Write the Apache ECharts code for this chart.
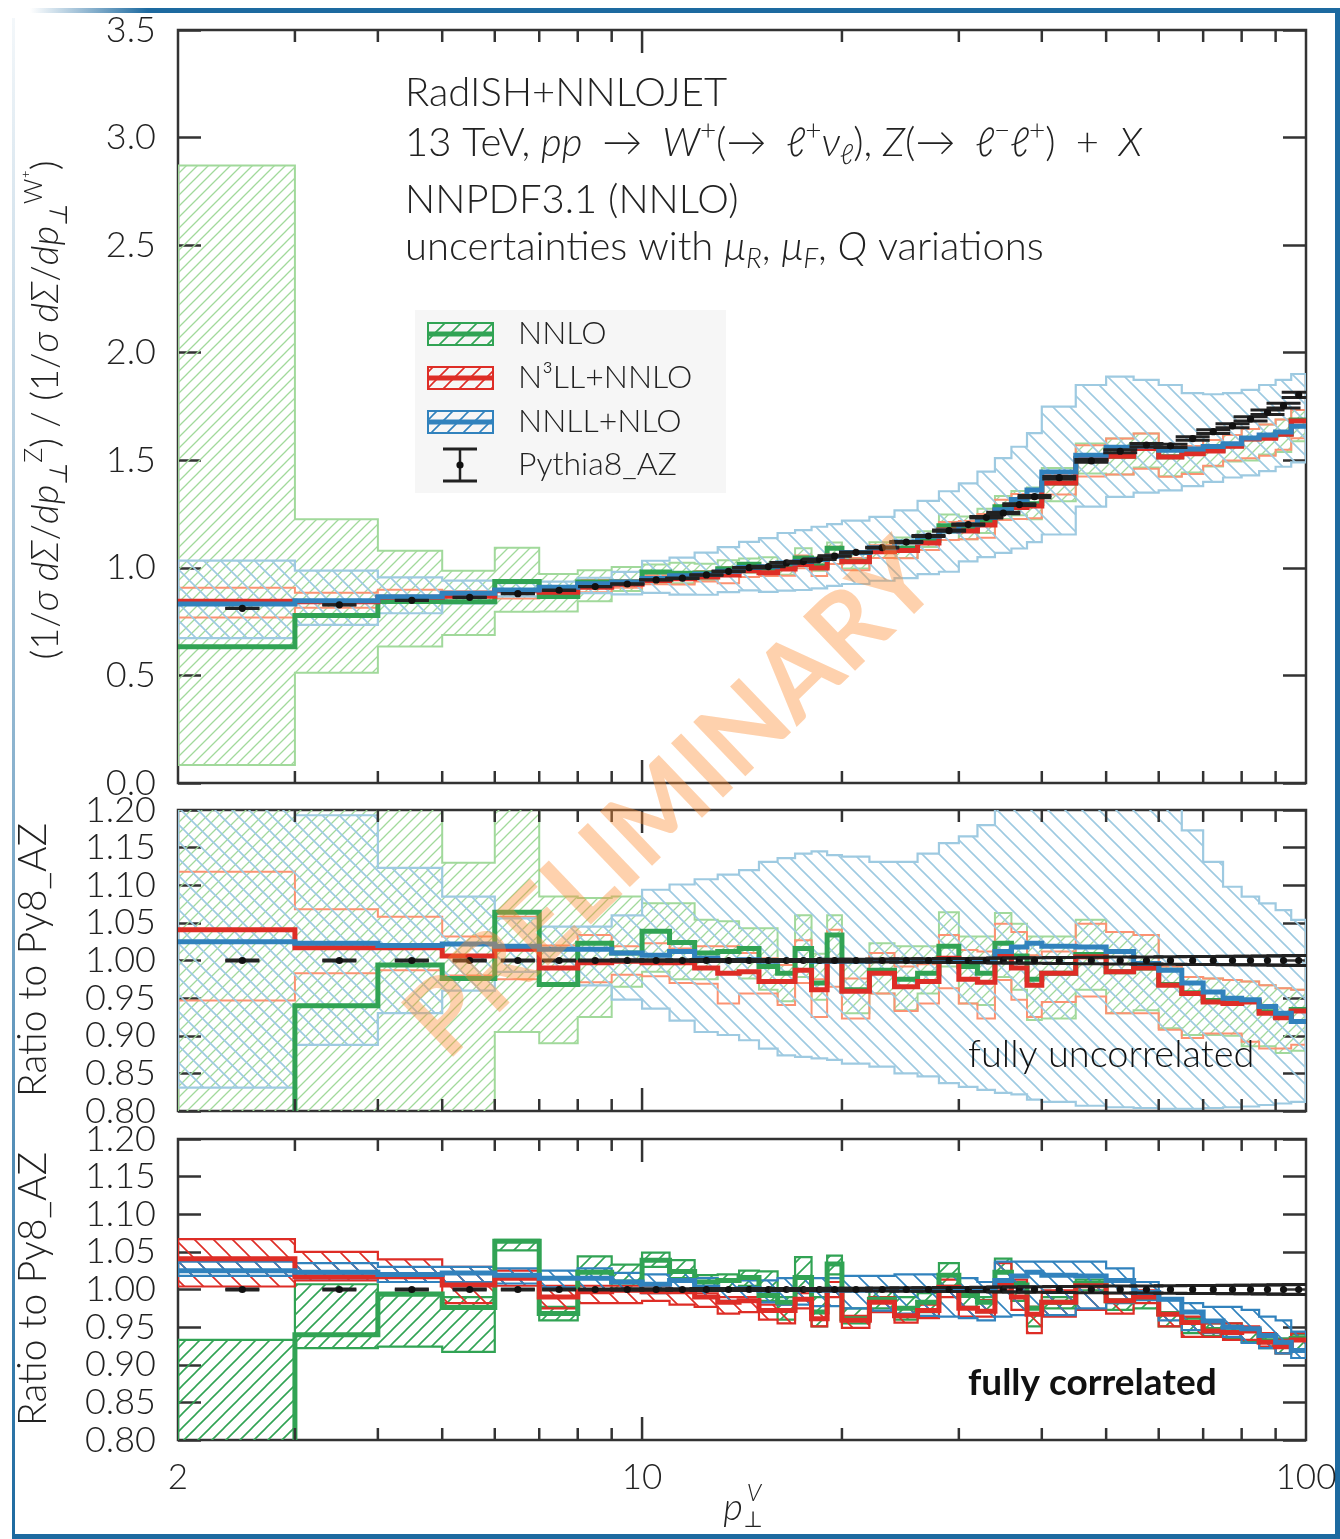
<!DOCTYPE html>
<html><head><meta charset="utf-8">
<script src="https://cdn.jsdelivr.net/npm/echarts@6/dist/echarts.min.js"></script>
<style>html,body{margin:0;padding:0;background:#fff}#c{width:1340px;height:1539px}</style>
</head><body><div id="c"></div>
<script>
// ---------------- DATA ----------------
const binEdges = [2,3,4,5,6,7,8,9,10,11,12,13,14,15,16,17,18,19,20,22,24,26,28,30,32,34,36,38,40,45,50,55,60,65,70,75,80,85,90,95,100];
const xMinorTicks = [3,4,5,6,7,8,9,20,30,40,50,60,70,80,90];
const xMajorTicks = [10];
const seriesNames = ['NNLO','N³LL+NNLO','NNLL+NLO','Pythia8_AZ'];

// Pythia8_AZ ratio Z/W+ (top panel) and its relative error
const pythia = [0.812,0.828,0.849,0.863,0.880,0.896,0.913,0.925,0.944,0.952, 0.967,0.984,1.001,1.006,1.023,1.029,1.040,1.055,1.072,1.094, 1.120,1.148,1.173,1.201,1.235,1.255,1.294,1.331,1.419,1.497, 1.542,1.571,1.567,1.601,1.633,1.660,1.692,1.723,1.754,1.804];
const pythiaRelErr = [0.0008,0.0008,0.0008,0.0008,0.0008,0.0008,0.0008,0.0010,0.0010,0.0010, 0.0012,0.0012,0.0012,0.0012,0.0014,0.0014,0.0014,0.0015,0.0018,0.0020, 0.0022,0.0024,0.0026,0.0028,0.0030,0.0032,0.0034,0.0036,0.0040,0.0042, 0.0045,0.0048,0.0050,0.0052,0.0054,0.0056,0.0058,0.0060,0.0062,0.0065];

// central predictions, ratio to Pythia8_AZ
const ratioNNLO = [0.780,0.940,0.994,0.976,1.064,0.968,1.023,1.010,1.039,1.024, 1.010,1.012,1.016,0.992,0.983,1.016,0.970,1.034,0.961,0.987, 0.975,0.983,1.019,0.992,0.983,1.023,1.006,0.975,0.983,1.008, 0.985,0.990,0.968,0.957,0.947,0.944,0.946,0.932,0.925,0.935];
const ratioN3LL = [1.041,1.017,1.017,1.006,1.015,0.990,0.997,0.999,0.997,0.997, 0.990,0.983,0.985,0.972,0.972,0.987,0.961,1.000,0.959,0.983, 0.965,0.972,1.003,0.975,0.971,1.007,0.990,0.967,0.983,1.005, 0.985,0.990,0.967,0.956,0.945,0.943,0.945,0.930,0.924,0.933];
const ratioNNLL = [1.025,1.023,1.020,1.022,1.019,1.015,1.015,1.010,1.007,1.012, 1.003,1.000,1.001,0.999,1.000,1.000,0.999,0.999,0.999,1.000, 1.000,0.999,0.999,0.999,0.999,1.012,1.018,1.023,1.019,1.018, 1.012,0.996,0.987,0.970,0.958,0.950,0.948,0.939,0.930,0.919];

// top panel uncertainty bands
const topNNLOLo = [0.084,0.513,0.634,0.688,0.796,0.797,0.845,0.893,0.930,0.928, 0.943,0.967,0.977,0.967,0.968,1.006,0.986,1.054,0.997,1.046, 1.046,1.097,1.164,1.133,1.162,1.227,1.244,1.226,1.310,1.439, 1.434,1.467,1.426,1.443,1.471,1.494,1.499,1.527,1.538,1.588];
const topNNLOHi = [2.870,1.226,1.080,0.986,1.094,0.972,0.989,1.004,1.016,1.024, 1.019,1.035,1.044,1.049,1.022,1.091,1.049,1.118,1.071,1.119, 1.141,1.170,1.248,1.239,1.275,1.334,1.357,1.374,1.464,1.578, 1.601,1.624,1.554,1.566,1.594,1.617,1.645,1.666,1.689,1.734];
const topN3LLLo = [0.769,0.814,0.838,0.846,0.858,0.869,0.887,0.907,0.924,0.923, 0.937,0.928,0.957,0.962,0.963,0.998,0.962,1.018,0.989,1.046, 1.045,1.083,1.130,1.133,1.140,1.222,1.227,1.231,1.341,1.425, 1.434,1.461,1.423,1.436,1.475,1.499,1.509,1.521,1.549,1.602];
const topN3LLHi = [0.908,0.884,0.898,0.891,0.931,0.914,0.944,0.943,0.966,0.967, 0.985,1.003,1.011,1.009,1.017,1.057,1.014,1.098,1.046,1.105, 1.111,1.142,1.213,1.218,1.250,1.316,1.343,1.340,1.436,1.570, 1.601,1.624,1.554,1.566,1.594,1.617,1.645,1.666,1.689,1.734];
const topNNLLLo = [0.673,0.735,0.789,0.835,0.867,0.866,0.883,0.877,0.884,0.876, 0.875,0.887,0.895,0.888,0.894,0.897,0.905,0.916,0.925,0.940, 0.952,0.971,0.982,1.030,1.050,1.070,1.090,1.120,1.155,1.285, 1.330,1.350,1.360,1.380,1.400,1.420,1.430,1.450,1.470,1.490];
const topNNLLHi = [1.034,0.987,0.956,0.941,0.929,0.936,0.954,0.981,1.033,1.048, 1.071,1.096,1.121,1.138,1.162,1.175,1.191,1.203,1.220,1.237, 1.267,1.311,1.356,1.393,1.447,1.510,1.563,1.626,1.749,1.850, 1.889,1.874,1.850,1.812,1.807,1.812,1.827,1.850,1.874,1.901];

// middle panel: fully uncorrelated ratio bands
const uncNNLOLo = [0.103,0.620,0.747,0.700,0.905,0.890,0.925,0.965,0.985,0.975, 0.975,0.983,0.976,0.961,0.946,0.978,0.948,0.999,0.930,0.956, 0.934,0.956,0.992,0.943,0.941,0.978,0.961,0.921,0.923,0.961, 0.930,0.934,0.910,0.901,0.901,0.900,0.886,0.886,0.877,0.880];
const uncNNLOHi = [3.530,1.480,1.272,1.130,1.243,1.085,1.083,1.085,1.076,1.076, 1.054,1.052,1.043,1.043,0.999,1.060,1.009,1.060,0.999,1.023, 1.019,1.019,1.064,1.032,1.032,1.063,1.049,1.032,1.032,1.054, 1.038,1.034,0.992,0.978,0.976,0.974,0.972,0.967,0.963,0.961];
const uncN3LLLo = [0.947,0.983,0.987,0.980,0.975,0.970,0.971,0.981,0.979,0.970, 0.969,0.943,0.956,0.956,0.941,0.970,0.925,0.965,0.923,0.956, 0.933,0.943,0.963,0.943,0.923,0.974,0.948,0.925,0.945,0.952, 0.930,0.930,0.908,0.897,0.903,0.903,0.892,0.883,0.883,0.888];
const uncN3LLHi = [1.118,1.068,1.058,1.032,1.058,1.020,1.034,1.019,1.023,1.016, 1.019,1.019,1.010,1.003,0.994,1.027,0.975,1.041,0.976,1.010, 0.992,0.995,1.034,1.014,1.012,1.049,1.038,1.007,1.012,1.049, 1.038,1.034,0.992,0.978,0.976,0.974,0.972,0.967,0.963,0.961];
const uncNNLLLo = [0.831,0.888,0.930,0.960,0.985,0.967,0.967,0.948,0.936,0.920, 0.905,0.901,0.894,0.883,0.874,0.872,0.870,0.868,0.863,0.859, 0.850,0.846,0.837,0.832,0.828,0.824,0.822,0.815,0.812,0.807, 0.805,0.804,0.803,0.803,0.804,0.805,0.806,0.808,0.810,0.812];
const uncNNLLHi = [1.273,1.193,1.123,1.085,1.056,1.045,1.045,1.060,1.094,1.101, 1.108,1.114,1.120,1.131,1.136,1.142,1.145,1.140,1.138,1.131, 1.131,1.142,1.156,1.165,1.180,1.210,1.230,1.250,1.280,1.300, 1.300,1.280,1.230,1.173,1.131,1.098,1.085,1.076,1.067,1.054];

// bottom panel: fully correlated ratio bands
const corNNLOLo = [0.700,0.922,0.924,0.917,1.052,0.959,1.015,1.000,1.030,1.015, 1.000,1.000,1.005,0.985,0.960,1.000,0.951,1.020,0.955,0.975, 0.960,0.970,1.005,0.977,0.970,1.024,0.985,0.951,0.975,0.999, 0.973,0.975,0.951,0.942,0.938,0.935,0.930,0.922,0.915,0.918];
const corNNLOHi = [0.933,1.007,0.992,0.990,1.066,0.977,1.044,1.033,1.049,1.039, 1.019,1.020,1.025,1.024,0.990,1.043,0.990,1.045,0.975,1.000, 0.990,0.995,1.035,0.997,0.990,1.041,1.010,0.977,0.990,1.013, 0.986,0.990,0.968,0.962,0.955,0.955,0.950,0.942,0.935,0.940];
const corN3LLLo = [1.004,1.012,1.010,0.982,1.005,0.975,0.982,0.982,0.985,0.980, 0.977,0.968,0.970,0.960,0.955,0.975,0.951,0.990,0.949,0.970, 0.956,0.962,0.990,0.964,0.964,0.999,0.973,0.942,0.964,0.973, 0.968,0.982,0.951,0.937,0.937,0.933,0.933,0.924,0.915,0.920];
const corN3LLHi = [1.067,1.050,1.040,1.030,1.025,1.005,1.005,1.005,1.005,1.000, 0.995,0.990,0.990,0.980,0.980,0.995,0.970,1.010,0.965,0.990, 0.975,0.980,1.013,0.995,0.986,1.035,1.013,0.977,0.999,1.004, 0.995,0.999,0.968,0.964,0.955,0.955,0.951,0.942,0.933,0.942];
const corNNLLLo = [1.018,1.015,1.010,1.010,1.008,1.003,1.000,0.998,0.995,0.998, 0.990,0.985,0.985,0.983,0.980,0.980,0.978,0.978,0.975,0.972, 0.968,0.965,0.964,0.962,0.959,0.964,0.966,0.966,0.966,0.975, 0.982,0.986,0.959,0.946,0.942,0.937,0.929,0.922,0.915,0.909];
const corNNLLHi = [1.037,1.035,1.030,1.030,1.028,1.025,1.028,1.022,1.020,1.025, 1.015,1.012,1.012,1.012,1.015,1.015,1.015,1.015,1.018,1.018, 1.020,1.020,1.019,1.015,1.010,1.037,1.037,1.037,1.037,1.037, 1.028,1.010,0.986,0.982,0.977,0.977,0.973,0.964,0.959,0.944];

// ---------------- STYLE ----------------
const FONT = 'Lato';
const FW = 300;
const TXT = '#222222';
const AX = '#333333';
const C = {g:'#31a354', r:'#de2d26', b:'#3182bd', gl:'#a1d99b', rl:'#fc9272', bl:'#9ecae1', k:'#111111'};

function hatch(color, size, dir, lw) {
  const cv = document.createElement('canvas');
  cv.width = size; cv.height = size;
  const g = cv.getContext('2d');
  g.strokeStyle = color; g.lineWidth = lw; g.lineCap = 'square';
  g.beginPath();
  if (dir > 0) {
    g.moveTo(0, size); g.lineTo(size, 0);
    g.moveTo(-size/2, size/2); g.lineTo(size/2, -size/2);
    g.moveTo(size/2, size*1.5); g.lineTo(size*1.5, size/2);
  } else {
    g.moveTo(0, 0); g.lineTo(size, size);
    g.moveTo(size/2, -size/2); g.lineTo(size*1.5, size/2);
    g.moveTo(-size/2, size/2); g.lineTo(size/2, size*1.5);
  }
  g.stroke();
  return {image: cv, repeat: 'repeat'};
}

function stepBand(p, lo, hi, stroke, fill, lw, z) {
  return {type:'custom', xAxisIndex:p, yAxisIndex:p*2, clip:true, silent:true, z:z,
    data:[[10, 1]], encode:{x:0, y:1},
    renderItem:function(params, api){
      const pts = [];
      for (let i=0;i<hi.length;i++){ pts.push(api.coord([binEdges[i],hi[i]])); pts.push(api.coord([binEdges[i+1],hi[i]])); }
      for (let i=lo.length-1;i>=0;i--){ pts.push(api.coord([binEdges[i+1],lo[i]])); pts.push(api.coord([binEdges[i],lo[i]])); }
      return {type:'polygon', shape:{points:pts}, style:{fill:fill, stroke:stroke, lineWidth:lw, lineJoin:'miter'}};
    }};
}
function stepLine(p, vals, color, lw, z) {
  return {type:'custom', xAxisIndex:p, yAxisIndex:p*2, clip:true, silent:true, z:z,
    data:[[10, 1]], encode:{x:0, y:1},
    renderItem:function(params, api){
      const pts = [];
      for (let i=0;i<vals.length;i++){ pts.push(api.coord([binEdges[i],vals[i]])); pts.push(api.coord([binEdges[i+1],vals[i]])); }
      return {type:'polyline', shape:{points:pts}, style:{fill:null, stroke:color, lineWidth:lw, lineJoin:'miter'}};
    }};
}
function pythiaSeries(p, vals, errs) {
  const data = vals.map((v,i)=>[(binEdges[i]+binEdges[i+1])/2, v, errs[i]]);
  return {type:'custom', xAxisIndex:p, yAxisIndex:p*2, clip:true, silent:true, z:6,
    data:data, encode:{x:0, y:1},
    renderItem:function(params, api){
      const x = api.value(0), y = api.value(1), e = api.value(2);
      const c = api.coord([x,y]);
      const yh = api.coord([x,y+e])[1], yl = api.coord([x,y-e])[1];
      const hw = 17;
      return {type:'group', children:[
        {type:'line', shape:{x1:c[0],y1:yl,x2:c[0],y2:yh}, style:{stroke:C.k, lineWidth:2}},
        {type:'line', shape:{x1:c[0]-hw,y1:yh,x2:c[0]+hw,y2:yh}, style:{stroke:'#222', lineWidth:3}},
        {type:'line', shape:{x1:c[0]-hw,y1:yl,x2:c[0]+hw,y2:yl}, style:{stroke:'#222', lineWidth:3}},
        {type:'circle', shape:{cx:c[0],cy:c[1],r:3.6}, style:{fill:C.k}}
      ]};
    }};
}
function tickSeries(p, ymin) {
  const data = xMinorTicks.map(v=>[v, ymin, 0]).concat(xMajorTicks.map(v=>[v, ymin, 1]));
  return {type:'custom', xAxisIndex:p, yAxisIndex:p*2, silent:true, z:7, clip:false,
    data:data, encode:{x:0, y:1},
    renderItem:function(params, api){
      const cs = params.coordSys;
      const x = api.coord([api.value(0), api.value(1)])[0];
      const len = api.value(2) ? 23 : 12;
      return {type:'group', children:[
        {type:'line', shape:{x1:x,y1:cs.y+cs.height,x2:x,y2:cs.y+cs.height-len}, style:{stroke:AX, lineWidth:2.5}},
        {type:'line', shape:{x1:x,y1:cs.y,x2:x,y2:cs.y+len}, style:{stroke:AX, lineWidth:2.5}}
      ]};
    }};
}

const series = [];
const topG = ratioNNLO.map((r,i)=>r*pythia[i]);
const topR = ratioN3LL.map((r,i)=>r*pythia[i]);
const topB = ratioNNLL.map((r,i)=>r*pythia[i]);
// top panel
series.push(stepBand(0, topNNLOLo, topNNLOHi, C.gl, hatch(C.gl, 11, 1, 1.3), 2, 2));
series.push(stepBand(0, topN3LLLo, topN3LLHi, C.rl, null, 2, 2));
series.push(stepBand(0, topNNLLLo, topNNLLHi, C.bl, hatch(C.bl, 17, -1, 1.6), 2.2, 2));
series.push(stepLine(0, topG, C.g, 5, 3));
series.push(stepLine(0, topR, C.r, 5, 3));
series.push(stepLine(0, topB, C.b, 5, 3));
series.push(pythiaSeries(0, pythia, pythia.map((v,i)=>v*pythiaRelErr[i])));
// middle panel
series.push(stepBand(1, uncNNLOLo, uncNNLOHi, C.gl, hatch(C.gl, 11, 1, 1.3), 2, 2));
series.push(stepBand(1, uncN3LLLo, uncN3LLHi, C.rl, null, 2, 2));
series.push(stepBand(1, uncNNLLLo, uncNNLLHi, C.bl, hatch(C.bl, 17, -1, 1.6), 2.2, 2));
series.push(stepLine(1, ratioNNLO, C.g, 5, 3));
series.push(stepLine(1, ratioN3LL, C.r, 5, 3));
series.push(stepLine(1, ratioNNLL, C.b, 5, 3));
series.push(pythiaSeries(1, pythia.map(()=>1), pythiaRelErr));
// bottom panel
series.push(stepBand(2, corNNLOLo, corNNLOHi, C.g, hatch(C.g, 14, 1, 1.6), 2.2, 2));
series.push(stepBand(2, corN3LLLo, corN3LLHi, C.r, hatch(C.r, 19, -1, 1.6), 2.2, 2));
series.push(stepBand(2, corNNLLLo, corNNLLHi, C.b, hatch(C.b, 19, -1, 1.6), 2.2, 2));
series.push(stepLine(2, ratioNNLO, C.g, 5, 3));
series.push(stepLine(2, ratioN3LL, C.r, 5, 3));
series.push(stepLine(2, ratioNNLL, C.b, 5, 3));
series.push(pythiaSeries(2, pythia.map(()=>1), pythiaRelErr));
series.push(tickSeries(0, 0.5));
series.push(tickSeries(1, 1.0));
series.push(tickSeries(2, 1.0));

const grids = [
  {left:178, top:30, width:1128, height:753},
  {left:178, top:810, width:1128, height:301},
  {left:178, top:1139, width:1128, height:301}
].map(g=>Object.assign(g,{show:true, borderColor:AX, borderWidth:2.5, backgroundColor:'transparent'}));

const xAxes = [0,1,2].map(i=>({gridIndex:i, type:'log', logBase:10, min:2, max:100,
  axisLine:{show:false}, axisTick:{show:false}, splitLine:{show:false}, minorTick:{show:false},
  axisLabel:{show:i===2, fontSize:35, fontFamily:FONT, fontWeight:FW, color:TXT, margin:20,
    formatter:function(v){return String(Math.round(v));}}}));

function yPair(i, min, max, step, dec) {
  const base = {gridIndex:i, type:'value', min:min, max:max, interval:step,
    axisLine:{show:false}, splitLine:{show:false},
    axisTick:{show:true, inside:true, length:23, lineStyle:{color:AX, width:2.5}}};
  return [
    Object.assign({}, base, {position:'left', axisLabel:{show:true, fontSize:36, fontFamily:FONT, fontWeight:FW, color:TXT, margin:22,
      formatter:function(v){return v.toFixed(dec);}}}),
    Object.assign({}, base, {position:'right', axisLabel:{show:false}})
  ];
}
const yAxes = [].concat(yPair(0,0,3.5,0.5,1), yPair(1,0.8,1.2,0.05,2), yPair(2,0.8,1.2,0.05,2));

// ---------------- GRAPHICS (text, legend, frame) ----------------
function mkRich(fs, lh, sfs, slh) {
  return {
    n:{fontSize:fs, fontFamily:FONT, fontWeight:FW, fill:TXT, lineHeight:lh},
    i:{fontSize:fs, fontFamily:FONT, fontWeight:FW, fill:TXT, fontStyle:'italic', lineHeight:lh},
    sp:{fontSize:sfs, fontFamily:FONT, fontWeight:FW, fill:TXT, verticalAlign:'top', lineHeight:slh},
    sb:{fontSize:sfs, fontFamily:FONT, fontWeight:FW, fill:TXT, fontStyle:'italic', verticalAlign:'bottom', lineHeight:slh}
  };
}
const rich40 = mkRich(40, 52, 28, 32);
const rich38 = mkRich(38, 50, 25, 28);
function rtext(x, y, text, rich) {
  return {type:'text', x:x, y:y, z:60, silent:true,
    style:{text:text, rich:rich, align:'left', verticalAlign:'middle', fontFamily:FONT, fill:TXT}};
}
const graphics = [];
const SP = '\u2002';
graphics.push(rtext(405, 93, '{n|RadISH+NNLOJET}', rich40));
graphics.push(rtext(405, 143, '{n|13 TeV, }{i|pp}{n|'+SP+'→'+SP+'}{i|W}{sp|+}{n|(→'+SP+'}{i|ℓ}{sp|+}{i|ν}{sb|ℓ}{n|), }{i|Z}{n|(→'+SP+'}{i|ℓ}{sp|−}{i|ℓ}{sp|+}{n|)'+SP+'+'+SP+'}{i|X}', rich40));
graphics.push(rtext(405, 200, '{n|NNPDF3.1 (NNLO)}', rich40));
graphics.push(rtext(405, 247, '{n|uncertainties with }{i|μ}{sb|R}{n|, }{i|μ}{sb|F}{n|, }{i|Q}{n| variations}', rich40));

// y titles
graphics.push({type:'text', x:46, y:410, rotation:Math.PI/2, z:60, silent:true,
  style:{text:'{n|(1/}{i|σ dΣ}{n|/}{i|dp}{sb|⊥}{sp|Z}{n|) / (1/}{i|σ dΣ}{n|/}{i|dp}{sb|⊥}{sp|W⁺}{n|)}', rich:rich38, align:'center', verticalAlign:'middle'}});
graphics.push({type:'text', x:33, y:960, rotation:Math.PI/2, z:60, silent:true,
  style:{text:'Ratio to Py8_AZ', fontSize:39, fontFamily:FONT, fontWeight:FW, fill:TXT, align:'center', verticalAlign:'middle'}});
graphics.push({type:'text', x:33, y:1289, rotation:Math.PI/2, z:60, silent:true,
  style:{text:'Ratio to Py8_AZ', fontSize:39, fontFamily:FONT, fontWeight:FW, fill:TXT, align:'center', verticalAlign:'middle'}});
// x title
graphics.push({type:'text', x:733, y:1508, z:60, silent:true, style:{text:'p', fontSize:38, fontStyle:'italic', fontFamily:FONT, fontWeight:FW, fill:TXT, align:'center', verticalAlign:'middle'}});
graphics.push({type:'text', x:754, y:1493, z:60, silent:true, style:{text:'V', fontSize:24, fontStyle:'italic', fontFamily:FONT, fontWeight:FW, fill:TXT, align:'center', verticalAlign:'middle'}});
graphics.push({type:'text', x:753, y:1521, z:60, silent:true, style:{text:'⊥', fontSize:22, fontFamily:'DejaVu Sans', fill:TXT, align:'center', verticalAlign:'middle'}});
// panel labels
graphics.push({type:'text', x:968, y:1055, z:60, silent:true, style:{text:'fully uncorrelated', fontSize:38, fontFamily:FONT, fontWeight:FW, fill:'#111', align:'left', verticalAlign:'middle'}});
graphics.push({type:'text', x:968, y:1383, z:60, silent:true, style:{text:'fully correlated', fontSize:37, fontWeight:'bold', fontFamily:FONT, fill:'#111', align:'left', verticalAlign:'middle'}});

// legend
graphics.push({type:'rect', z:50, silent:true, shape:{x:415, y:310, width:311, height:183}, style:{fill:'#f6f6f6'}});
const legCols = [C.g, C.r, C.b];
legCols.forEach((col, k)=>{
  const yc = 334 + k*44;
  graphics.push({type:'rect', z:51, silent:true, shape:{x:428, y:yc-11, width:65, height:22}, style:{fill:hatch(col, 16, 1, 1.6), stroke:col, lineWidth:2}});
  graphics.push({type:'line', z:52, silent:true, shape:{x1:428, y1:yc, x2:493, y2:yc}, style:{stroke:col, lineWidth:5}});
  graphics.push({type:'text', z:52, silent:true, x:518, y:yc, style:{text:seriesNames[k], fontSize:32, fontFamily:FONT, fontWeight:FW, fill:TXT, verticalAlign:'middle'}});
});
graphics.push({type:'line', z:52, silent:true, shape:{x1:460, y1:449, x2:460, y2:481}, style:{stroke:'#222', lineWidth:2.5}});
graphics.push({type:'line', z:52, silent:true, shape:{x1:443, y1:449, x2:477, y2:449}, style:{stroke:'#222', lineWidth:3}});
graphics.push({type:'line', z:52, silent:true, shape:{x1:443, y1:481, x2:477, y2:481}, style:{stroke:'#222', lineWidth:3}});
graphics.push({type:'circle', z:53, silent:true, shape:{cx:460, cy:465, r:3.6}, style:{fill:C.k}});
graphics.push({type:'text', z:52, silent:true, x:518, y:465, style:{text:seriesNames[3], fontSize:32, fontFamily:FONT, fontWeight:FW, fill:TXT, verticalAlign:'middle'}});

// watermark
graphics.push({type:'text', x:672, y:800, rotation:0.765, z:100, silent:true,
  style:{text:'PRELIMINARY', fontSize:104, fontWeight:'bold', fontFamily:FONT, fill:'rgba(252,141,50,0.40)', align:'center', verticalAlign:'middle'}});

// slide frame
const FR = '#1d6aa0';
graphics.push({type:'rect', z:0, silent:true, shape:{x:30, y:8, width:1310, height:5},
  style:{fill:{type:'linear', x:0, y:0, x2:1, y2:0, colorStops:[{offset:0, color:'rgba(29,106,160,0)'},{offset:0.09, color:FR},{offset:1, color:FR}]}}});
graphics.push({type:'rect', z:0, silent:true, shape:{x:12, y:18, width:3, height:1521},
  style:{fill:{type:'linear', x:0, y:0, x2:0, y2:1, colorStops:[{offset:0, color:'rgba(29,106,160,0.05)'},{offset:1, color:FR}]}}});
graphics.push({type:'rect', z:0, silent:true, shape:{x:12, y:1534, width:1328, height:5}, style:{fill:FR}});
graphics.push({type:'rect', z:0, silent:true, shape:{x:1335, y:8, width:5, height:1531}, style:{fill:FR}});

const chart = echarts.init(document.getElementById('c'), null, {renderer:'canvas', width:1340, height:1539});
chart.setOption({
  animation:false,
  backgroundColor:'#ffffff',
  grid:grids, xAxis:xAxes, yAxis:yAxes, series:series, graphic:graphics
});
</script></body></html>
